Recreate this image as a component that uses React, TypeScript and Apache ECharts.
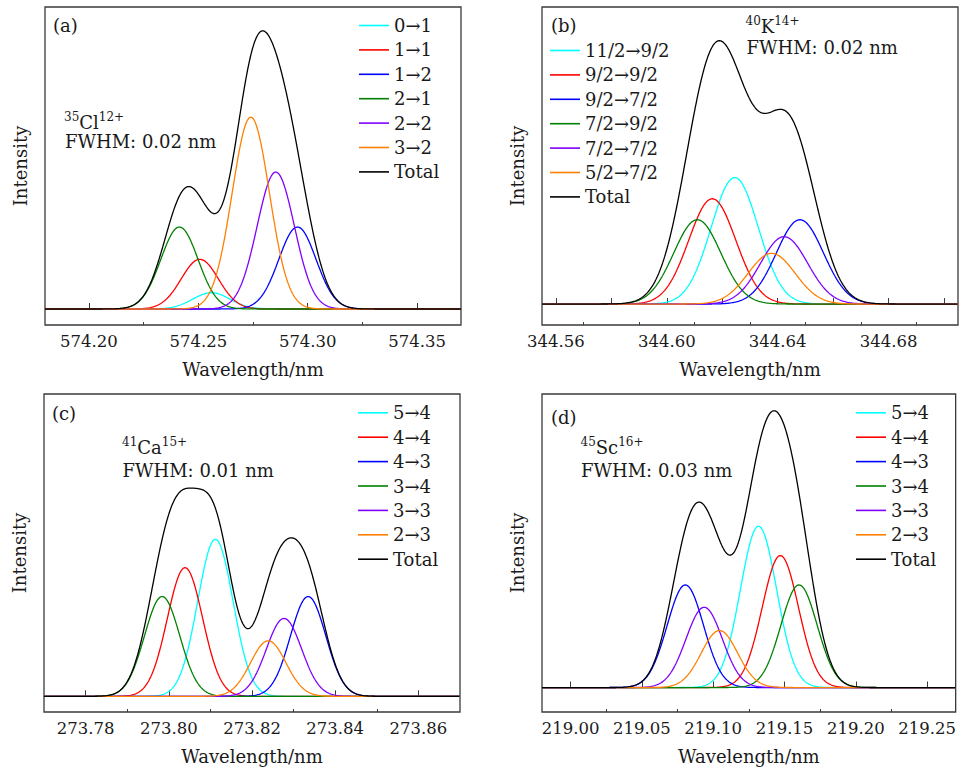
import React, { useEffect, useRef } from 'react';
import * as echarts from 'echarts';

// ---------- data ----------
const COLORS = ['#00FFFF', '#FF0000', '#0000FF', '#008000', '#8000FF', '#FF8000'];
const TOTAL_COLOR = '#000000';

// (a) 35Cl12+
const namesA = ['0→1', '1→1', '1→2', '2→1', '2→2', '3→2'];
const centersA = [574.256, 574.2507, 574.2953, 574.2414, 574.2854, 574.274];
const heightsA = [0.059, 0.18, 0.297, 0.297, 0.496, 0.695];
const fwhmA = 0.02;
const rangeA = [574.18, 574.37];
const yRangeA = [-0.058, 1.094];
const majorTicksA = [574.2, 574.25, 574.3, 574.35];
const minorTicksA = [574.225, 574.275, 574.325];
const tickLabelsA = [574.2, 574.25, 574.3, 574.35];

// (b) 40K14+
const namesB = ['11/2→9/2', '9/2→9/2', '9/2→7/2', '7/2→9/2', '7/2→7/2', '5/2→7/2'];
const centersB = [344.6245, 344.6164, 344.648, 344.611, 344.6423, 344.6378];
const heightsB = [0.477, 0.397, 0.318, 0.318, 0.254, 0.191];
const fwhmB = 0.02;
const rangeB = [344.555, 344.705];
const yRangeB = [-0.079, 1.12];
const majorTicksB = [344.56, 344.58, 344.6, 344.62, 344.64, 344.66, 344.68, 344.7];
const minorTicksB = [344.57, 344.59, 344.61, 344.63, 344.65, 344.67, 344.69];
const tickLabelsB = [344.56, 344.6, 344.64, 344.68];

// (c) 41Ca15+
const namesC = ['5→4', '4→4', '4→3', '3→4', '3→3', '2→3'];
const centersC = [273.8112, 273.8039, 273.8335, 273.7984, 273.8277, 273.8239];
const heightsC = [0.752, 0.616, 0.478, 0.478, 0.373, 0.266];
const fwhmC = 0.01;
const rangeC = [273.77, 273.87];
const yRangeC = [-0.075, 1.448];
const majorTicksC = [273.78, 273.8, 273.82, 273.84, 273.86];
const minorTicksC = [273.79, 273.81, 273.83, 273.85];
const tickLabelsC = [273.78, 273.8, 273.82, 273.84, 273.86];

// (d) 45Sc16+
const namesD = ['5→4', '4→4', '4→3', '3→4', '3→3', '2→3'];
const centersD = [219.1318, 219.1471, 219.0805, 219.1602, 219.0937, 219.1044];
const heightsD = [0.577, 0.472, 0.367, 0.367, 0.287, 0.204];
const fwhmD = 0.03;
const rangeD = [218.98, 219.27];
const yRangeD = [-0.0875, 1.05];
const majorTicksD = [219.0, 219.05, 219.1, 219.15, 219.2, 219.25];
const minorTicksD = [219.025, 219.075, 219.125, 219.175, 219.225];
const tickLabelsD = [219.0, 219.05, 219.1, 219.15, 219.2, 219.25];

const panelLabels = ['(a)', '(b)', '(c)', '(d)'];
const isotopeTexts = ['{sup|35}Cl{sup|12+}', '{sup|40}K{sup|14+}', '{sup|41}Ca{sup|15+}', '{sup|45}Sc{sup|16+}'];
const fwhmTexts = ['FWHM: 0.02 nm', 'FWHM: 0.02 nm', 'FWHM: 0.01 nm', 'FWHM: 0.03 nm'];

// ---------- layout ----------
const FONT = '"DejaVu Serif", serif';
const TXT = '#1a1a1a';
const AXIS = '#3a3a3a';

const panels = [
  {
    names: namesA, centers: centersA, heights: heightsA, fwhm: fwhmA, range: rangeA, yRange: yRangeA,
    major: majorTicksA, minor: minorTicksA, labels: tickLabelsA,
    grid: { left: 45, top: 7, width: 416, height: 318 },
    legend: { left: 359, top: 16.5 },
    tag: { x: 53, y: 25 }, iso: { x: 64, y: 122 }, fw: { x: 65, y: 141 },
  },
  {
    names: namesB, centers: centersB, heights: heightsB, fwhm: fwhmB, range: rangeB, yRange: yRangeB,
    major: majorTicksB, minor: minorTicksB, labels: tickLabelsB,
    grid: { left: 542, top: 7, width: 416, height: 318 },
    legend: { left: 550, top: 41.5 },
    tag: { x: 551, y: 25 }, iso: { x: 745.5, y: 26 }, fw: { x: 746.5, y: 47.5 },
  },
  {
    names: namesC, centers: centersC, heights: heightsC, fwhm: fwhmC, range: rangeC, yRange: yRangeC,
    major: majorTicksC, minor: minorTicksC, labels: tickLabelsC,
    grid: { left: 44, top: 394, width: 416, height: 318 },
    legend: { left: 358, top: 403.8 },
    tag: { x: 52, y: 413 }, iso: { x: 122, y: 447 }, fw: { x: 122.5, y: 470 },
  },
  {
    names: namesD, centers: centersD, heights: heightsD, fwhm: fwhmD, range: rangeD, yRange: yRangeD,
    major: majorTicksD, minor: minorTicksD, labels: tickLabelsD,
    grid: { left: 542, top: 394, width: 416, height: 318 },
    legend: { left: 856, top: 403.8 },
    tag: { x: 551, y: 417 }, iso: { x: 580.5, y: 447 }, fw: { x: 581, y: 470 },
  },
];

// Gaussian line profile of one transition (centre, height, FWHM)
function lineProfile(center: number, height: number, fwhm: number, xs: number[]) {
  const k = (4 * Math.LN2) / (fwhm * fwhm);
  return xs.map((x) => height * Math.exp(-k * (x - center) * (x - center)));
}

function buildOption() {
  const grid: any[] = [];
  const xAxis: any[] = [];
  const yAxis: any[] = [];
  const legend: any[] = [];
  const series: any[] = [];
  const graphic: any[] = [];

  panels.forEach((p, pi) => {
    grid.push({ ...p.grid, show: true, borderColor: AXIS, borderWidth: 1.3, backgroundColor: 'transparent' });
    const common = {
      type: 'value', gridIndex: pi, min: p.range[0], max: p.range[1], position: 'bottom',
      splitLine: { show: false }, axisLine: { show: false },
    };
    xAxis.push({
      ...common,
      axisTick: { show: true, inside: true, length: 6, customValues: p.major, lineStyle: { color: AXIS, width: 1 } },
      axisLabel: {
        show: true, customValues: p.labels, margin: 8, formatter: (v: number) => v.toFixed(2),
        fontFamily: FONT, fontSize: 16.5, color: TXT,
      },
      name: 'Wavelength/nm', nameLocation: 'middle', nameGap: 35,
      nameTextStyle: { fontFamily: FONT, fontSize: 18, color: TXT },
    });
    xAxis.push({
      ...common,
      axisTick: { show: true, inside: true, length: 3, customValues: p.minor, lineStyle: { color: AXIS, width: 1 } },
      axisLabel: { show: false },
    });
    yAxis.push({
      type: 'value', gridIndex: pi, min: p.yRange[0], max: p.yRange[1],
      axisLine: { show: false }, axisTick: { show: false }, axisLabel: { show: false }, splitLine: { show: false },
      name: 'Intensity', nameLocation: 'middle', nameGap: 16, nameRotate: 90,
      nameTextStyle: { fontFamily: FONT, fontSize: 18, color: TXT },
    });

    const N = 600;
    const xs: number[] = [];
    for (let i = 0; i <= N; i++) xs.push(p.range[0] + ((p.range[1] - p.range[0]) * i) / N);
    const total = xs.map(() => 0);
    p.names.forEach((nm, ci) => {
      const ys = lineProfile(p.centers[ci], p.heights[ci], p.fwhm, xs);
      ys.forEach((y, i) => (total[i] += y));
      series.push({
        type: 'line', name: nm, xAxisIndex: pi * 2, yAxisIndex: pi, showSymbol: false, symbol: 'none',
        silent: true, z: 2 + ci * 0.01,
        lineStyle: { color: COLORS[ci], width: 1.3 }, itemStyle: { color: COLORS[ci] },
        data: xs.map((x, i) => [x, ys[i]]),
      });
    });
    series.push({
      type: 'line', name: 'Total', xAxisIndex: pi * 2, yAxisIndex: pi, showSymbol: false, symbol: 'none',
      silent: true, z: 3,
      lineStyle: { color: TOTAL_COLOR, width: 1.3 }, itemStyle: { color: TOTAL_COLOR },
      data: xs.map((x, i) => [x, total[i]]),
    });

    legend.push({
      show: true, orient: 'vertical', left: p.legend.left, top: p.legend.top, padding: 0,
      icon: 'rect', itemWidth: 30, itemHeight: 1.6, itemGap: 6.4, selectedMode: false,
      data: [...p.names, 'Total'],
      textStyle: { fontFamily: FONT, fontSize: 18, color: TXT, lineHeight: 17 },
    });

    graphic.push({
      type: 'text', x: p.tag.x, y: p.tag.y, silent: true,
      style: { text: panelLabels[pi], fontFamily: FONT, fontSize: 18, fill: TXT, verticalAlign: 'middle', align: 'left' },
    });
    graphic.push({
      type: 'text', x: p.iso.x, y: p.iso.y, silent: true,
      style: {
        text: isotopeTexts[pi], fontFamily: FONT, fontSize: 18, fill: TXT, verticalAlign: 'middle', align: 'left',
        lineHeight: 22,
        rich: { sup: { fontFamily: FONT, fontSize: 12, lineHeight: 12, verticalAlign: 'top', fill: TXT } },
      },
    });
    graphic.push({
      type: 'text', x: p.fw.x, y: p.fw.y, silent: true,
      style: { text: fwhmTexts[pi], fontFamily: FONT, fontSize: 18, fill: TXT, verticalAlign: 'middle', align: 'left' },
    });
  });

  return { animation: false, backgroundColor: '#ffffff', grid, xAxis, yAxis, legend, series, graphic };
}

export default function App() {
  const ref = useRef<HTMLDivElement>(null);
  useEffect(() => {
    if (!ref.current) return;
    const chart = echarts.init(ref.current, undefined, { renderer: 'svg' });
    chart.setOption(buildOption() as any);
    return () => chart.dispose();
  }, []);
  return (
    <div
      ref={ref}
      style={{ position: 'fixed', left: 0, top: 0, width: 959, height: 769, background: '#fff' }}
    />
  );
}
